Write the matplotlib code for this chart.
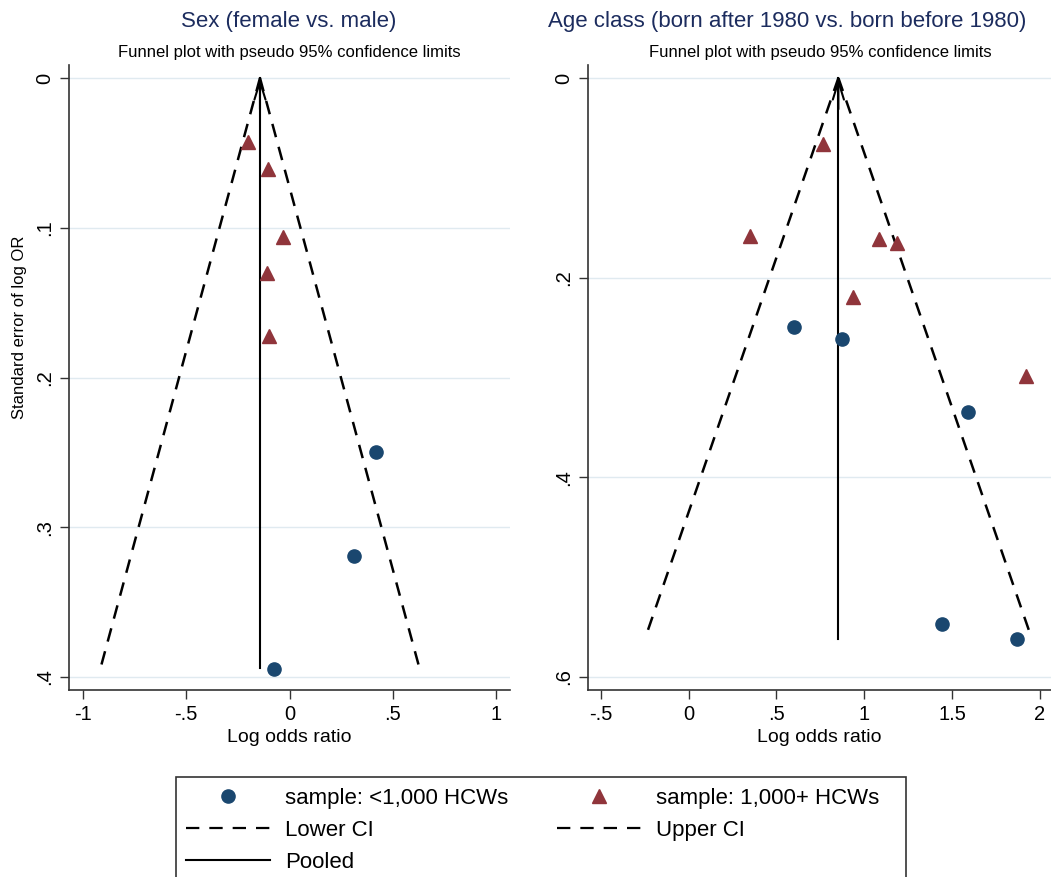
import numpy as np
import matplotlib
matplotlib.use("Agg")
import matplotlib.pyplot as plt
from matplotlib.lines import Line2D
from matplotlib.patches import Rectangle

plt.rcParams['font.family'] = ['Liberation Sans', 'DejaVu Sans']

# --- data ----------------------------------------------------------------
# panel 1: Sex (female vs. male)
sex_small_lor = [0.419, 0.312, -0.075]
sex_small_se = [0.250, 0.319, 0.395]
sex_large_lor = [-0.201, -0.104, -0.031, -0.109, -0.099]
sex_large_se = [0.043, 0.061, 0.106, 0.130, 0.172]
sex_pooled = -0.143
sex_se_max = 0.394

# panel 2: Age class
age_small_lor = [0.600, 0.874, 1.590, 1.443, 1.870]
age_small_se = [0.249, 0.261, 0.335, 0.547, 0.562]
age_large_lor = [0.766, 0.350, 1.084, 1.187, 0.936, 1.920]
age_large_se = [0.066, 0.158, 0.161, 0.165, 0.219, 0.298]
age_pooled = 0.853
age_se_max = 0.562

titles = ['Sex (female vs. male)',
          'Age class (born after 1980 vs. born before 1980)']
subtitle = 'Funnel plot with pseudo 95% confidence limits'

sex_xticks = [-1, -0.5, 0, 0.5, 1]
sex_xlabels = ['-1', '-.5', '0', '.5', '1']
sex_yticks = [0, 0.1, 0.2, 0.3, 0.4]
sex_ylabels = ['0', '.1', '.2', '.3', '.4']
age_xticks = [-0.5, 0, 0.5, 1, 1.5, 2]
age_xlabels = ['-.5', '0', '.5', '1', '1.5', '2']
age_yticks = [0, 0.2, 0.4, 0.6]
age_ylabels = ['0', '.2', '.4', '.6']

NAVY = '#1a476f'
MAROON = '#90353b'
GRID = '#e0eaf0'
TITLE_C = '#1c2c5e'

W, H = 1051, 877
fig = plt.figure(figsize=(W / 100, H / 100), dpi=100)
fig.patch.set_facecolor('white')


def px(x0, y0, x1, y1):
    return [x0 / W, 1 - y1 / H, (x1 - x0) / W, (y1 - y0) / H]


def funnel(ax, s_lor, s_se, l_lor, l_se, pooled, se_max, xlim, ylim,
           xt, xtl, yt, ytl):
    for y in yt:
        ax.axhline(y, color=GRID, lw=1.0, zorder=0)
    se = np.array([0, se_max])
    ax.plot(pooled - 1.96 * se, se, color='black', lw=1.8,
            dashes=(5.5, 4), zorder=2)
    ax.plot(pooled + 1.96 * se, se, color='black', lw=1.8,
            dashes=(5.5, 4), zorder=2)
    ax.plot([pooled, pooled], [se_max, 0], color='black', lw=1.5, zorder=2)
    span = ylim[0] - ylim[1]
    ax.annotate('', xy=(pooled, 0), xytext=(pooled, span * 0.05),
                arrowprops=dict(arrowstyle='->,head_length=1.3,head_width=0.4',
                                lw=1.5, color='black', shrinkA=0, shrinkB=0))
    ax.plot(s_lor, s_se, 'o', color=NAVY, ms=9.5, mec=NAVY, zorder=3)
    ax.plot(l_lor, l_se, '^', color=MAROON, ms=9.5, mec=MAROON, zorder=3)
    ax.set_xlim(*xlim)
    ax.set_ylim(*ylim)
    ax.set_xticks(xt)
    ax.set_xticklabels(xtl)
    ax.set_yticks(yt)
    ax.set_yticklabels(ytl, rotation=90, va='center')
    for s in ['top', 'right']:
        ax.spines[s].set_visible(False)
    for s in ['left', 'bottom']:
        ax.spines[s].set_linewidth(1.2)
        ax.spines[s].set_color('#333333')
    ax.tick_params(direction='out', length=6.5, width=1.0, labelsize=14.5,
                   pad=4, colors='#333333', labelcolor='black')
    ax.set_xlabel('Log odds ratio', fontsize=14, labelpad=4)


ax1 = fig.add_axes(px(69, 65, 510, 690))
funnel(ax1, sex_small_lor, sex_small_se, sex_large_lor, sex_large_se,
       sex_pooled, sex_se_max, (-1.068, 1.068), (0.4087, -0.0087),
       sex_xticks, sex_xlabels, sex_yticks, sex_ylabels)

ax2 = fig.add_axes(px(588, 65, 1051, 690))
funnel(ax2, age_small_lor, age_small_se, age_large_lor, age_large_se,
       age_pooled, age_se_max, (-0.572, 2.063), (0.613, -0.013),
       age_xticks, age_xlabels, age_yticks, age_ylabels)

fig.text(289 / W, 1 - 22 / H, titles[0], fontsize=16, color=TITLE_C,
         ha='center', va='center')
fig.text(787 / W, 1 - 22 / H, titles[1], fontsize=16, color=TITLE_C,
         ha='center', va='center')
fig.text(289 / W, 1 - 52 / H, subtitle, fontsize=12, ha='center', va='center')
fig.text(820 / W, 1 - 52 / H, subtitle, fontsize=12, ha='center', va='center')
fig.text(20 / W, 1 - 327 / H, 'Standard error of log OR', fontsize=12,
         rotation=90, ha='center', va='center')

# legend
handles = [
    Line2D([], [], ls='none', marker='o', color=NAVY, ms=9.5),
    Line2D([], [], color='black', lw=1.6, dashes=(6, 4.5)),
    Line2D([], [], color='black', lw=1.5),
    Line2D([], [], ls='none', marker='^', color=MAROON, ms=9.5),
    Line2D([], [], color='black', lw=1.6, dashes=(6, 4.5)),
]
labels = ['sample: <1,000 HCWs', 'Lower CI', 'Pooled',
          'sample: 1,000+ HCWs', 'Upper CI']
fig.legend(handles, labels, loc='upper left', ncol=2, frameon=False,
           bbox_to_anchor=(186 / W, 1 - 788 / H), borderpad=0,
           borderaxespad=0, fontsize=16, handlelength=3.8,
           handletextpad=0.65, columnspacing=2.2, labelspacing=0.5)
fig.add_artist(Rectangle((176 / W, -0.05), 730 / W, 0.05 + 1 - 777 / H,
                         transform=fig.transFigure, fill=False,
                         edgecolor='#333333', lw=1.2))

fig.savefig('out.png', dpi=100)
